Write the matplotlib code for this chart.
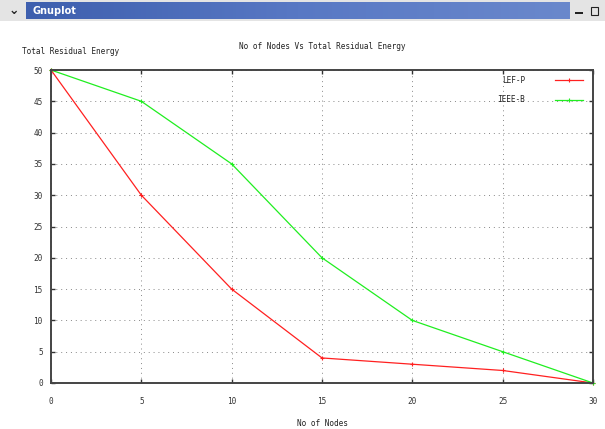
import matplotlib
matplotlib.use("Agg")
import matplotlib.pyplot as plt
from matplotlib.patches import Rectangle
from matplotlib.colors import LinearSegmentedColormap
import numpy as np

nodes = [0, 5, 10, 15, 20, 25, 30]
lef_p = [50, 30, 15, 4, 3, 2, 0]
ieee_b = [50, 45, 35, 20, 10, 5, 0]
x_ticks = [0, 5, 10, 15, 20, 25, 30]
y_ticks = [0, 5, 10, 15, 20, 25, 30, 35, 40, 45, 50]

FONT = "DejaVu Sans Mono"
FS = 5.6

fig = plt.figure(figsize=(6.05, 4.29), dpi=100)
fig.patch.set_facecolor("white")

W, H = 605, 429
def fx(px): return px / W
def fy(py): return 1 - py / H

# window title bar background
bg_ax = fig.add_axes([0, fy(21), 1, fy(0) - fy(21)], zorder=-2)
bg_ax.set_facecolor("#e4e4e4")
bg_ax.set_xticks([]); bg_ax.set_yticks([])
for s in bg_ax.spines.values():
    s.set_visible(False)

grad = np.linspace(0, 1, 256).reshape(1, -1)
bar_ax = fig.add_axes([fx(26), fy(19), fx(570) - fx(26), fy(2) - fy(19)], zorder=-1)
cmap = LinearSegmentedColormap.from_list("tb", ["#3e5fae", "#5878c4", "#6a88cc"])
bar_ax.imshow(grad, aspect="auto", cmap=cmap, extent=[0, 1, 0, 1])
bar_ax.set_axis_off()
bar_ax.text(0.012, 0.5, "Gnuplot", color="white", fontsize=7, fontweight="bold",
            va="center", ha="left", family="DejaVu Sans", transform=bar_ax.transAxes)
fig.text(fx(14), fy(10), "\u2304", fontsize=9, fontweight="bold", ha="center", va="center", color="#222")
fig.patches.append(Rectangle((fx(575), fy(14)), fx(8), fy(12) - fy(14), transform=fig.transFigure,
                             facecolor="#222", edgecolor="none"))
fig.patches.append(Rectangle((fx(591), fy(15)), fx(7), fy(7) - fy(15), transform=fig.transFigure,
                             facecolor="none", edgecolor="#222", linewidth=0.8))

ax = fig.add_axes([fx(51), fy(383), fx(593) - fx(51), fy(70) - fy(383)])
ax.plot(nodes, lef_p, color="#ff2020", lw=0.9, marker="+", ms=3, mew=0.8, label="LEF-P", clip_on=False)
ax.plot(nodes, ieee_b, color="#20ee20", lw=0.9, marker="+", ms=3, mew=0.8, label="IEEE-B", clip_on=False)
ax.set_xlim(0, 30)
ax.set_ylim(0, 50)
ax.set_xticks(x_ticks)
ax.set_yticks(y_ticks)
ax.set_xticklabels([str(v) for v in x_ticks], fontsize=FS, family=FONT, color="#333")
ax.set_yticklabels([str(v) for v in y_ticks], fontsize=FS, family=FONT, color="#333")
ax.tick_params(direction="in", length=3, width=1, top=True, right=True, color="#333")
ax.tick_params(axis="x", pad=10)
ax.tick_params(axis="y", pad=6)
ax.grid(True, linestyle=(0, (1, 4)), color="#888", linewidth=0.7)
for s in ax.spines.values():
    s.set_color("#444")
    s.set_linewidth(1.4)

ax.set_title("No of Nodes Vs Total Residual Energy", fontsize=FS, family=FONT, color="#222", pad=15)
fig.text(fx(22), fy(52), "Total Residual Energy", fontsize=FS, family=FONT, color="#222", ha="left", va="center")
fig.text(fx(322), fy(424), "No of Nodes", fontsize=FS, family=FONT, color="#222", ha="center", va="center")

leg = ax.legend(loc="upper right", bbox_to_anchor=(0.995, 1.005), frameon=False, prop={"family": FONT, "size": FS},
                markerfirst=False, handlelength=3.6, handletextpad=3.8, labelspacing=1.3, borderpad=0.5)
for t in leg.get_texts():
    t.set_color("#222")

fig.savefig("out.png", dpi=100)
